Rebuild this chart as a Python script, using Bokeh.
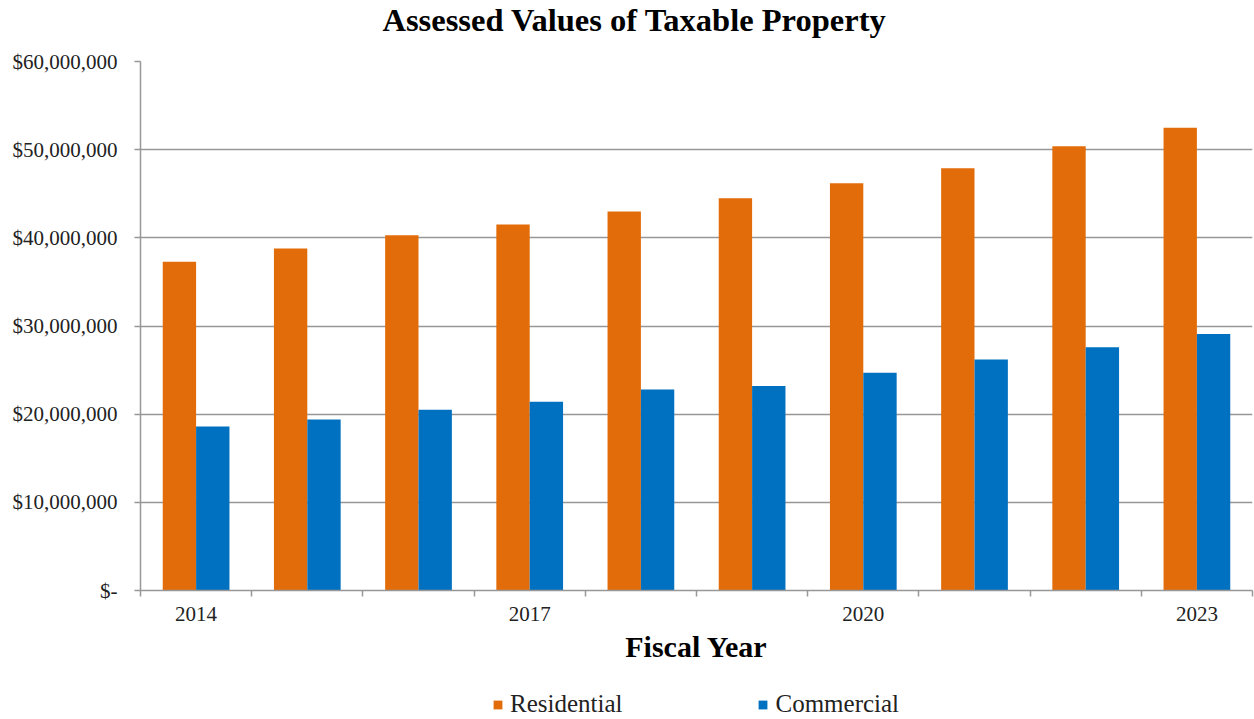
from bokeh.plotting import figure
from bokeh.models import (ColumnDataSource, Range1d, FixedTicker, Legend, LegendItem)
from bokeh.transform import dodge
from bokeh.layouts import column
from bokeh.embed import file_html
from bokeh.resources import INLINE

# ---- data ----
years = ["2014", "2015", "2016", "2017", "2018", "2019", "2020", "2021", "2022", "2023"]
labeled_years = ["2014", "2017", "2020", "2023"]
residential = [37.3e6, 38.8e6, 40.3e6, 41.5e6, 43.0e6, 44.5e6, 46.2e6, 47.9e6, 50.4e6, 52.5e6]
commercial = [18.6e6, 19.4e6, 20.5e6, 21.4e6, 22.8e6, 23.2e6, 24.7e6, 26.2e6, 27.6e6, 29.1e6]
y_ticks = [0, 10e6, 20e6, 30e6, 40e6, 50e6, 60e6]
y_tick_labels = ["$-", "$10,000,000", "$20,000,000", "$30,000,000",
                 "$40,000,000", "$50,000,000", "$60,000,000"]
series_names = ["Residential", "Commercial"]
colors = ["#E36C0A", "#0070C0"]

title_text = "Assessed Values of Taxable Property"
x_title = "Fiscal Year"

FONT = "Liberation Serif"
GRID = "#979797"
LABEL_COLOR = "#222222"


def strip(height):
    """A bare figure used only to hold a title or a legend."""
    f = figure(width=1254, height=height, output_backend="svg", toolbar_location=None,
               x_range=Range1d(0, 1), y_range=Range1d(0, 1),
               min_border_left=0, min_border_right=0, min_border_top=0,
               min_border_bottom=0)
    f.axis.visible = False
    f.grid.visible = False
    f.outline_line_color = None
    f.background_fill_color = "white"
    f.border_fill_color = "white"
    return f


# ---- title strip ----
tf = strip(44)
tf.title.text = title_text
tf.title.text_font = FONT
tf.title.text_font_size = "32.5px"
tf.title.text_font_style = "bold"
tf.title.text_color = "black"
tf.title.align = "left"
tf.title.offset = 242
tf.title.vertical_align = "top"
tf.title.standoff = 2

# ---- main chart ----
n = len(years)
centers = [i + 0.5 for i in range(n)]
src = ColumnDataSource(dict(center=centers, res=residential, com=commercial))

p = figure(width=1254, height=636, output_backend="svg", toolbar_location=None,
           x_range=Range1d(0, n), y_range=Range1d(y_ticks[0], y_ticks[-1]),
           min_border_left=140, min_border_right=2, min_border_top=17,
           min_border_bottom=90)
p.background_fill_color = "white"
p.border_fill_color = "white"
p.outline_line_color = None

r1 = p.vbar(x=dodge("center", -0.15, range=p.x_range), top="res", width=0.3,
            source=src, fill_color=colors[0], line_color=None)
r2 = p.vbar(x=dodge("center", 0.15, range=p.x_range), top="com", width=0.3,
            source=src, fill_color=colors[1], line_color=None)

# y axis
yax = p.yaxis[0]
yax.ticker = FixedTicker(ticks=y_ticks)
yax.major_label_overrides = dict(zip(y_ticks, y_tick_labels))
yax.major_label_text_font = FONT
yax.major_label_text_font_size = "21px"
yax.major_label_text_color = LABEL_COLOR
yax.major_label_standoff = 17
yax.major_tick_out = 6
yax.major_tick_in = 0
yax.minor_tick_line_color = None
yax.axis_line_color = GRID
yax.axis_line_width = 1.5
yax.major_tick_line_color = GRID
yax.major_tick_line_width = 1.5

# x axis
xax = p.xaxis[0]
lab_idx = [years.index(y) for y in labeled_years]
xax.ticker = FixedTicker(ticks=[centers[i] for i in lab_idx],
                         minor_ticks=list(range(n + 1)))
xax.major_label_overrides = {centers[i]: years[i] for i in lab_idx}
xax.major_label_text_font = FONT
xax.major_label_text_font_size = "21px"
xax.major_label_text_color = LABEL_COLOR
xax.major_label_standoff = 10
xax.major_tick_line_color = None
xax.major_tick_out = 0
xax.major_tick_in = 0
xax.minor_tick_line_color = GRID
xax.minor_tick_line_width = 1.5
xax.minor_tick_out = 6
xax.minor_tick_in = 0
xax.axis_line_color = GRID
xax.axis_line_width = 1.5
xax.axis_label = x_title
xax.axis_label_text_font = FONT
xax.axis_label_text_font_size = "30px"
xax.axis_label_text_font_style = "bold"
xax.axis_label_text_color = "black"
xax.axis_label_standoff = 6

# grid
p.xgrid.grid_line_color = None
p.ygrid.ticker = yax.ticker
p.ygrid.grid_line_color = GRID
p.ygrid.grid_line_width = 1.5

# ---- legend strip ----
lf = strip(39)
# one off-range placeholder per series so the legend swatches get their colours
proxy = ColumnDataSource(dict(x=[-10.0], top=[0.0]))
d1 = lf.vbar(x="x", top="top", width=0.1, source=proxy, fill_color=colors[0], line_color=None)
d2 = lf.vbar(x="x", top="top", width=0.1, source=proxy, fill_color=colors[1], line_color=None)
legend = Legend(items=[LegendItem(label=series_names[0], renderers=[d1]),
                       LegendItem(label=series_names[1], renderers=[d2])],
                orientation="horizontal", location=(352, 1),
                glyph_width=11, glyph_height=11, label_standoff=7, spacing=135,
                label_text_font=FONT, label_text_font_size="25px",
                label_text_color=LABEL_COLOR,
                border_line_color=None, background_fill_alpha=0,
                padding=0, margin=0)
lf.add_layout(legend, "center")

layout = column(tf, p, lf, spacing=0)
open("out.html", "w").write(file_html(layout, INLINE))
